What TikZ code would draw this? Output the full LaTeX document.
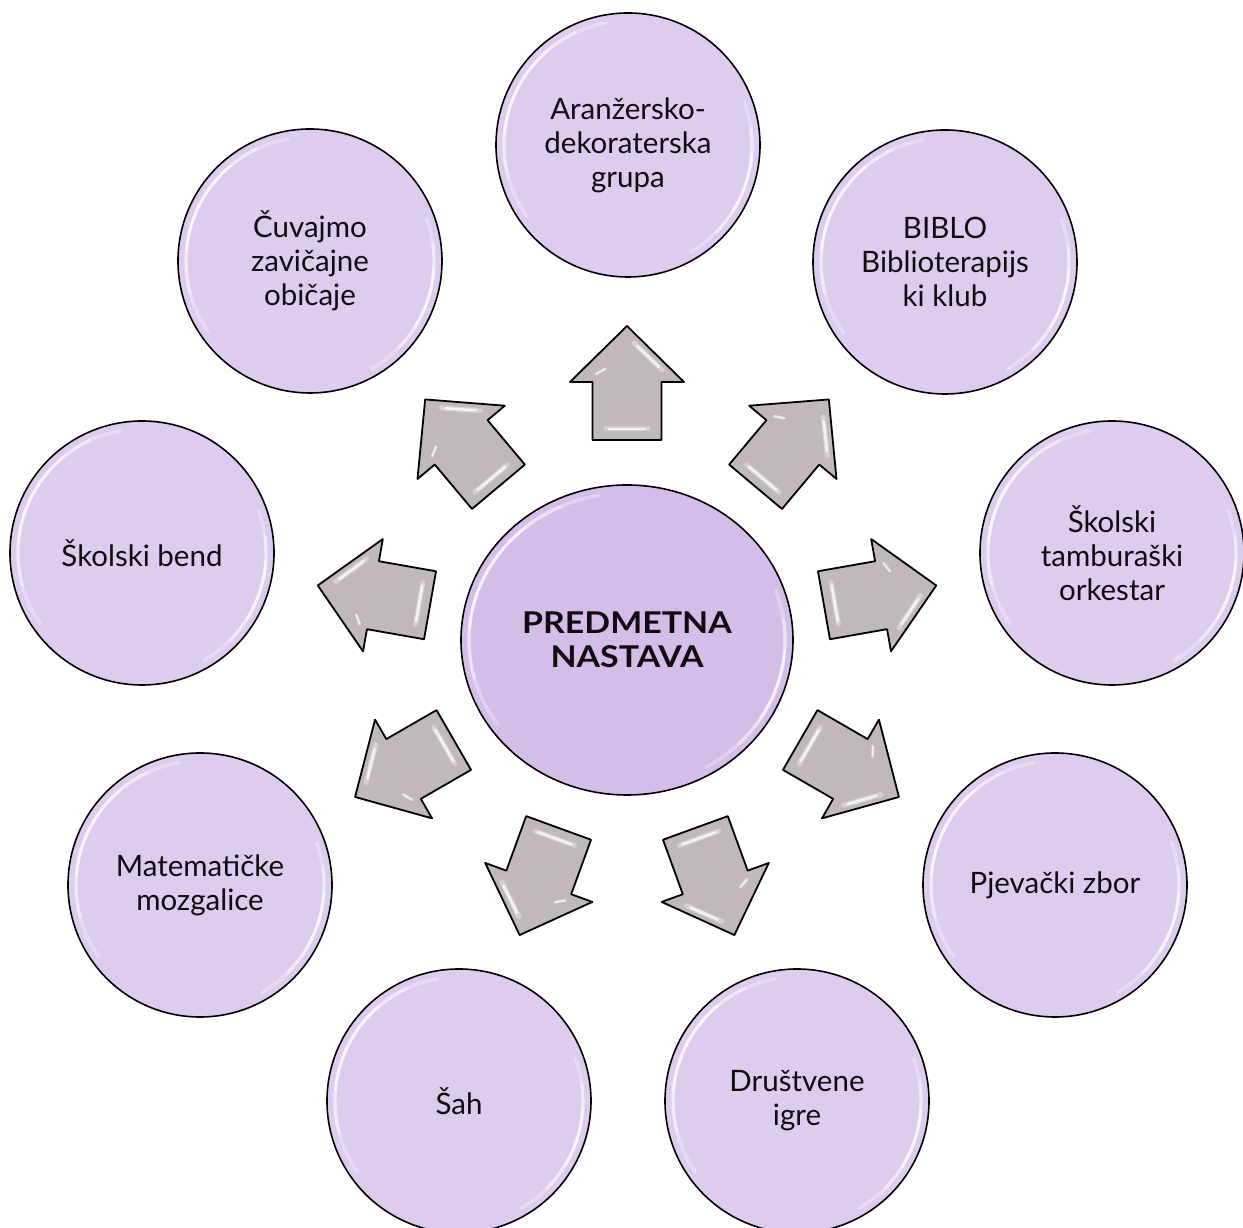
\documentclass[tikz,border=0pt]{standalone}
\usepackage{fontspec}
\setmainfont{Lato}
\usetikzlibrary{shapes.geometric}
\definecolor{bubblefill}{HTML}{DECCEE}
\definecolor{hubfill}{HTML}{D5BDE9}
\definecolor{arrowfill}{HTML}{C1B8BD}
\definecolor{inktext}{HTML}{100C10}
\tikzset{
  bubble/.style={circle, draw=black, line width=1.6pt, fill=bubblefill,
    minimum size=264pt, inner sep=0pt, align=center, text=inktext,
    font=\fontsize{29.5}{34}\selectfont},
  hubnode/.style={ellipse, draw=black, line width=1.6pt, fill=hubfill,
    minimum width=332pt, minimum height=310pt, inner sep=0pt, align=center,
    text=inktext, font=\fontsize{30}{34}\selectfont\bfseries\addfontfeatures{FakeStretch=1.13}},
  blockarrow/.style={draw=black, line width=1.8pt, line join=round, fill=arrowfill},
  shinebar/.style={white, line cap=round, opacity=#1},
  shinebar/.default=0.8
}
\newcommand\shineon[3]{%
  \begin{scope}[shift={(#1.center)}]
    \draw[shinebar=0.30, line width=3.5pt] (100:#2 and #3) arc[start angle=100, end angle=215, x radius=#2, y radius=#3];
    \draw[shinebar=0.40, line width=3pt] (115:#2 and #3) arc[start angle=115, end angle=195, x radius=#2, y radius=#3];
    \draw[shinebar=0.55, line width=2.5pt] (130:#2 and #3) arc[start angle=130, end angle=175, x radius=#2, y radius=#3];
    \draw[shinebar=0.30, line width=3.5pt] (-60:#2 and #3) arc[start angle=-60, end angle=20, x radius=#2, y radius=#3];
    \draw[shinebar=0.40, line width=3pt] (-45:#2 and #3) arc[start angle=-45, end angle=8, x radius=#2, y radius=#3];
    \draw[shinebar=0.55, line width=2.5pt] (-32:#2 and #3) arc[start angle=-32, end angle=-4, x radius=#2, y radius=#3];
  \end{scope}}
\newcommand\radialarrow[1]{%
  \begin{scope}[shift={(hub.center)}, rotate=#1]
    \draw[blockarrow] (200,-34.5) -- (258,-34.5) -- (258,-57) -- (314,0)
      -- (258,57) -- (258,34.5) -- (200,34.5) -- cycle;
    \draw[shinebar=0.35, line width=5pt] (211,-21) -- (211,21);
    \draw[shinebar=0.75, line width=2.5pt] (211,-18) -- (211,18);
    \draw[shinebar=0.35, line width=5pt] (297,-7) -- (270,-35);
    \draw[shinebar=0.75, line width=2.5pt] (294,-10) -- (273,-32);
    \draw[shinebar=0.7, line width=2.5pt] (266,31) -- (271,22);
  \end{scope}}
\begin{document}
\begin{tikzpicture}[x=1pt, y=1pt]
  \useasboundingbox (0,0) rectangle (1243,1228);
  \node[hubnode] (hub) at (627,588) {PREDMETNA\\NASTAVA};
  \shineon{hub}{158pt}{147pt}
  \foreach \ang in {90,50,10,-30,-70,-110,-150,170,130}{\radialarrow{\ang}}
  \node[bubble] (c1) at (628,1083) {Aranžersko-\\dekoraterska\\grupa};
  \node[bubble] (c2) at (945,966) {BIBLO\\Biblioterapijs\\ki klub};
  \node[bubble] (c3) at (1112,675) {Školski\\tamburaški\\orkestar};
  \node[bubble] (c4) at (1055,343) {Pjevački zbor};
  \node[bubble] (c5) at (797,127) {Društvene\\igre};
  \node[bubble] (c6) at (459,127) {Šah};
  \node[bubble] (c7) at (200,343) {Matematičke\\mozgalice};
  \node[bubble] (c8) at (142,675) {Školski bend};
  \node[bubble] (c9) at (310,967) {Čuvajmo\\zavičajne\\običaje};
  \foreach \n in {c1,c2,c3,c4,c5,c6,c7,c8,c9}{\shineon{\n}{124pt}{124pt}}
\end{tikzpicture}
\end{document}
